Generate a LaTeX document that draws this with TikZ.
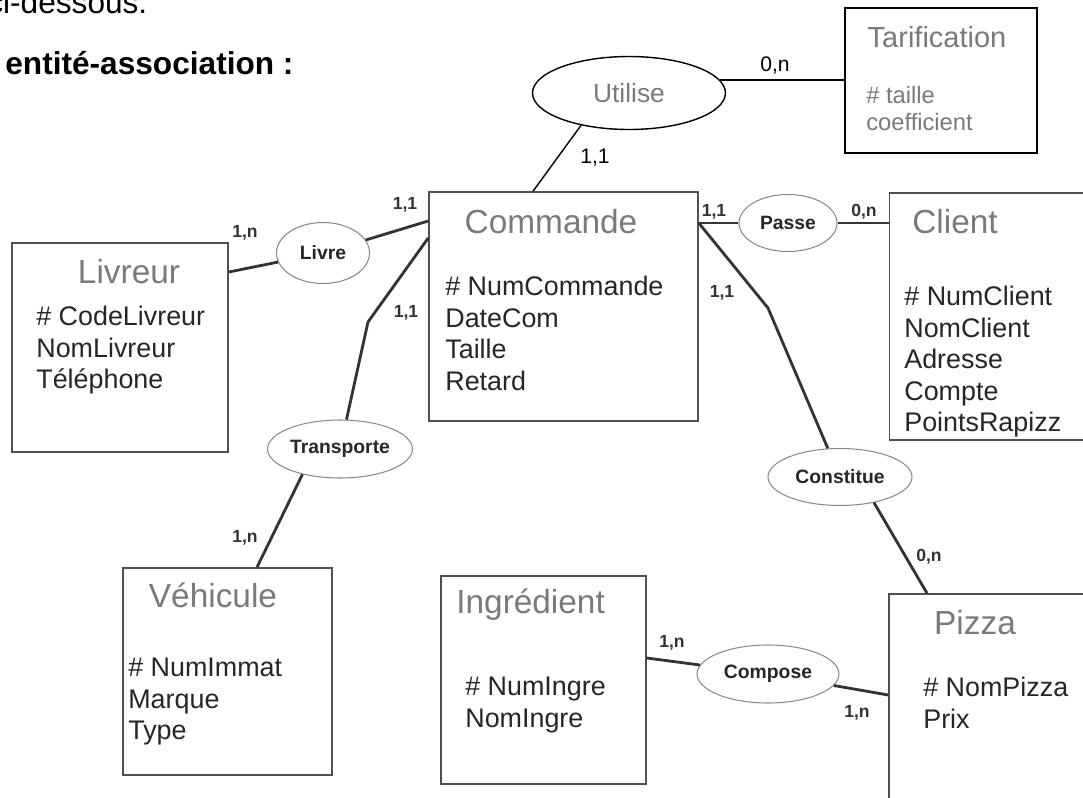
\documentclass[tikz,border=0pt]{standalone}
\usepackage{fontspec}
\setmainfont{Liberation Sans}
\usetikzlibrary{shapes.geometric}
\definecolor{titlegray}{HTML}{7A7A7A}
\definecolor{textdark}{HTML}{262626}
\definecolor{linkgray}{HTML}{333333}
\definecolor{boxgray}{HTML}{505050}
\definecolor{ovalgray}{HTML}{8A8A8A}
\tikzset{
  every picture/.style={font={\fontsize{15.3}{17.9}\selectfont}}}

\begin{document}
\begin{tikzpicture}[x=0.02cm, y=-0.02cm,
    entity/.style={draw=boxgray, line width=0.9pt, rectangle, inner sep=0},
    relation/.style={draw=ovalgray, line width=0.6pt, ellipse, inner sep=0,
      text=textdark, font={\bfseries\fontsize{11}{13}\selectfont}},
    title/.style={text=titlegray, inner sep=0, font={\fontsize{19}{22}\selectfont}},
    attrs/.style={text=textdark, inner sep=0, align=left, anchor=north west,
      font={\fontsize{15.3}{17.9}\selectfont}},
    card/.style={text=linkgray, inner sep=0, font={\bfseries\fontsize{10}{12}\selectfont}},
    cardthin/.style={text=black, inner sep=0, font={\fontsize{12}{14}\selectfont}},
    link/.style={draw=linkgray, line width=1.6pt},
    thinlink/.style={draw=black, line width=0.8pt}]

    \useasboundingbox (0,0) rectangle (1083,798);
    \clip (0,0) rectangle (1083,798);

    % heading text
    \node[anchor=base west, inner sep=0, font={\fontsize{18}{21}\selectfont}] (TxtA) at (-13,13) {ci-dessous.};
    \node[anchor=west, inner sep=0, font={\bfseries\fontsize{18}{21}\selectfont}] (TxtB) at (5,63) {entité-association :};

    % entities
    \begin{scope}
      \node[entity, draw=black, minimum width=3.84cm, minimum height=2.9cm] (ETar) at (941,80.5) {};
      \node[entity, minimum width=5.38cm, minimum height=4.58cm] (ECom) at (563.5,306.5) {};
      \node[entity, minimum width=4.32cm, minimum height=4.18cm] (ELiv) at (120,347.5) {};
      \node[entity, minimum width=4.42cm, minimum height=4.94cm] (ECli) at (1000,316.5) {};
      \node[entity, minimum width=4.18cm, minimum height=4.14cm] (EVeh) at (227.5,671.5) {};
      \node[entity, minimum width=4.1cm, minimum height=4.16cm] (EIng) at (543.5,680) {};
      \node[entity, minimum width=4.42cm, minimum height=4.72cm] (EPiz) at (999.5,712) {};
    \end{scope}

    % entity titles and attributes
    \begin{scope}
      \node[title, font={\fontsize{16.5}{19}\selectfont}] (TTar) at (937,37) {Tarification};
      \node[attrs, text=titlegray, font={\fontsize{13.5}{15.3}\selectfont}] (ATar) at (866,86) {\# taille\\coefficient};

      \node[title] (TCom) at (551,222) {Commande};
      \node[attrs] (ACom) at (445,276) {\# NumCommande\\DateCom\\Taille\\Retard};

      \node[title] (TLiv) at (129,272) {Livreur};
      \node[attrs] (ALiv) at (36,306) {\# CodeLivreur\\NomLivreur\\Téléphone};

      \node[title] (TCli) at (955,222) {Client};
      \node[attrs] (ACli) at (904,286) {\# NumClient\\NomClient\\Adresse\\Compte\\PointsRapizz};

      \node[title] (TVeh) at (213,595) {Véhicule};
      \node[attrs] (AVeh) at (128,658) {\# NumImmat\\Marque\\Type};

      \node[title, anchor=west] (TIng) at (456,605) {Ingrédient};
      \node[attrs] (AIng) at (465,677) {\# NumIngre\\NomIngre};

      \node[title] (TPiz) at (975,623) {Pizza};
      \node[attrs] (APiz) at (923,677) {\# NomPizza\\Prix};
    \end{scope}

    % associations
    \begin{scope}
      \node[relation, draw=black, line width=0.8pt, text=titlegray, font={\fontsize{15}{17}\selectfont},
        minimum width=3.86cm, minimum height=1.46cm] (RUti) at (629,93) {Utilise};
      \node[relation, minimum width=1.86cm, minimum height=1.22cm] (RLiv) at (323,253) {Livre};
      \node[relation, minimum width=1.96cm, minimum height=1.14cm] (RPas) at (788,223) {Passe};
      \node[relation, minimum width=2.9cm, minimum height=1.16cm] (RTra) at (340,449) {Transporte};
      \node[relation, minimum width=2.88cm, minimum height=1.14cm] (RCon) at (840,477) {Constitue};
      \node[relation, minimum width=2.84cm, minimum height=1.16cm] (RCom) at (768,674) {Compose};
    \end{scope}

    \coordinate (KTra) at (368,322);
    \coordinate (KCon) at (768,308);

    \path[thinlink] (RUti.8) edge (RUti.8 -| ETar.west);
    \path[thinlink] (RUti.214) edge (ECom.north -| 533,0);

    \path[link] (ELiv.east |- 0,272) edge (RLiv);
    \path[link] (RLiv) edge (ECom.west |- 0,221);
    \draw[link] (ECom.west |- 0,238) -- (KTra) -- (RTra);
    \path[link] (RTra.214) edge (EVeh.north -| 257,0);
    \path[link] (ECom.east |- 0,223) edge (RPas);
    \path[link] (RPas) edge (ECli.west |- 0,223);
    \draw[link] (ECom.east |- 0,223) -- (KCon) -- (RCon);
    \path[link] (RCon.323) edge (EPiz.north -| 927,0);
    \path[link] (EIng.east |- 0,658) edge (RCom);
    \path[link] (RCom) edge (EPiz.west |- 0,695);

    % cardinalities
    \node[cardthin] (CUtiA) at (775,65) {0,n};
    \node[cardthin] (CUtiB) at (595,158) {1,1};
    \node[card] (CLivA) at (245,233) {1,n};
    \node[card] (CLivB) at (405,205) {1,1};
    \node[card] (CTraA) at (406,313) {1,1};
    \node[card] (CTraB) at (245,538) {1,n};
    \node[card] (CPasA) at (714,212) {1,1};
    \node[card] (CPasB) at (864,212) {0,n};
    \node[card] (CConA) at (722,293) {1,1};
    \node[card] (CConB) at (929,557) {0,n};
    \node[card] (CComA) at (672,643) {1,n};
    \node[card] (CComB) at (857,713) {1,n};
  \end{tikzpicture}
\end{document}
